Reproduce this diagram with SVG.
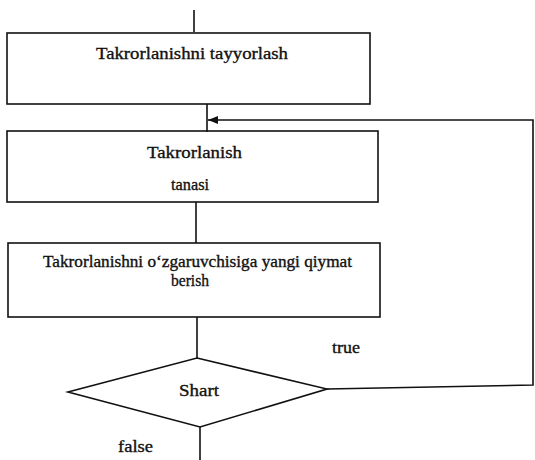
<svg xmlns="http://www.w3.org/2000/svg" width="535" height="460" viewBox="0 0 535 460">
<style>
.s{fill:none;stroke:#111;stroke-width:1.6}
.t{font-family:"Liberation Serif","Times New Roman",serif;font-size:17px;fill:#111;stroke:#111;stroke-width:0.35}
</style>
<defs>
<marker id="ah" markerWidth="10" markerHeight="8" refX="10" refY="4" orient="auto" markerUnits="userSpaceOnUse">
<path d="M0,0 L10,4 L0,8 Z" fill="#111"/>
</marker>
</defs>
<rect width="535" height="460" fill="#fff"/>
<g id="connectors">
<line class="s" x1="194" y1="10" x2="194" y2="32"/>
<line class="s" x1="207" y1="104" x2="207" y2="132"/>
<line class="s" x1="196" y1="202" x2="196" y2="243"/>
<line class="s" x1="197" y1="317" x2="197" y2="358"/>
<line class="s" x1="200" y1="427" x2="200" y2="460"/>
<polyline class="s" points="327,389 533,385 533,120 218,120"/>
<line class="s" x1="218" y1="120" x2="208" y2="120" marker-end="url(#ah)"/>
<text class="t" x="332" y="353" textLength="28" lengthAdjust="spacingAndGlyphs">true</text>
<text class="t" x="118" y="452" textLength="35" lengthAdjust="spacingAndGlyphs">false</text>
</g>
<g id="n1">
<rect class="s" x="7" y="33" width="363" height="71"/>
<text class="t" x="96" y="59" textLength="192" lengthAdjust="spacingAndGlyphs">Takrorlanishni tayyorlash</text>
</g>
<g id="n2">
<rect class="s" x="7" y="131" width="371" height="71"/>
<text class="t" x="147" y="158" textLength="95" lengthAdjust="spacingAndGlyphs">Takrorlanish</text>
<text class="t" x="171" y="190" textLength="38" lengthAdjust="spacingAndGlyphs">tanasi</text>
</g>
<g id="n3">
<rect class="s" x="8" y="243" width="372" height="74"/>
<text class="t" x="43" y="267" textLength="309" lengthAdjust="spacingAndGlyphs">Takrorlanishni o‘zgaruvchisiga yangi qiymat</text>
<text class="t" x="171" y="286" textLength="38" lengthAdjust="spacingAndGlyphs">berish</text>
</g>
<g id="n4">
<polygon class="s" points="197,358 327,389 200,427 68,392"/>
<text class="t" x="179" y="396" textLength="40" lengthAdjust="spacingAndGlyphs">Shart</text>
</g>
</svg>
